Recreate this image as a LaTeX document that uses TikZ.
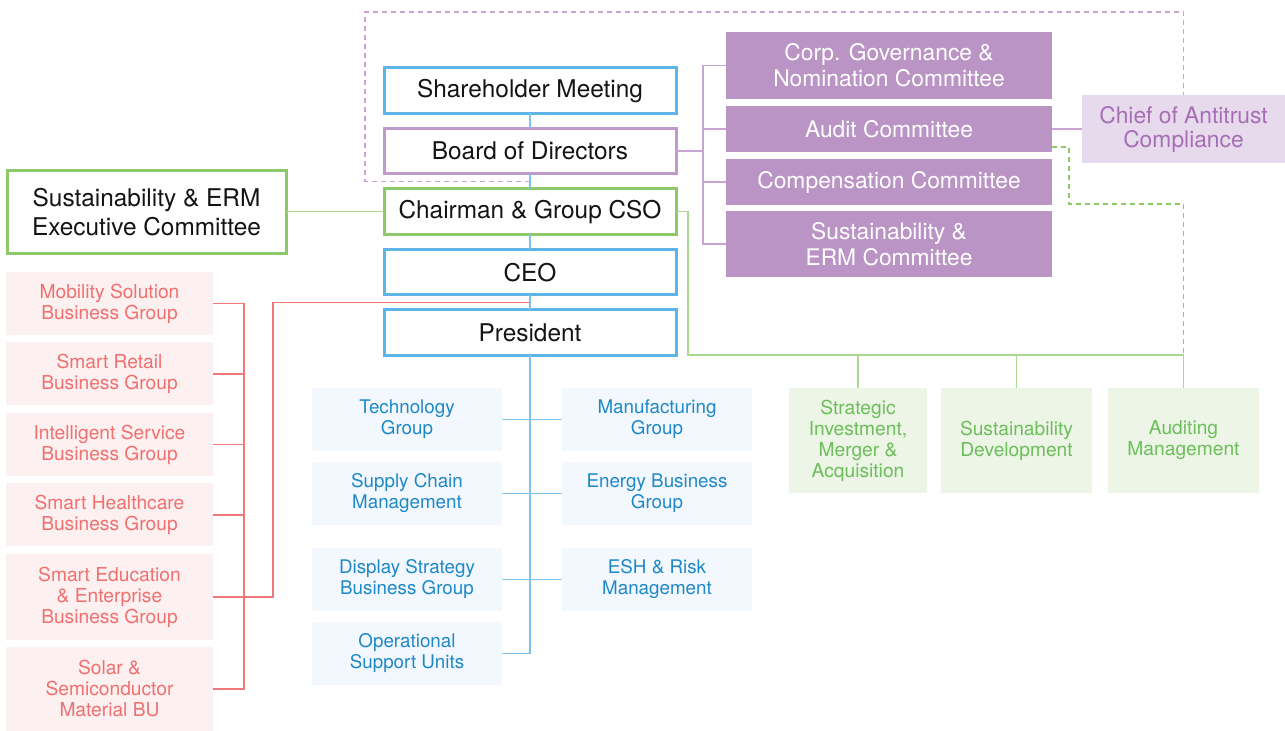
\documentclass[tikz,border=0pt]{standalone}
\usepackage{fontspec}
\setmainfont{TeX Gyre Heros}
\usetikzlibrary{positioning, calc}
\definecolor{colBlue}{RGB}{93,180,230}
\definecolor{colPurple}{RGB}{192,154,203}
\definecolor{colGreen}{RGB}{141,201,106}
\definecolor{colComm}{RGB}{186,148,196}
\definecolor{colChief}{RGB}{230,218,236}
\definecolor{colChiefTxt}{RGB}{166,111,181}
\definecolor{colRedFill}{RGB}{253,240,240}
\definecolor{colRedTxt}{RGB}{240,112,112}
\definecolor{colBlueFill}{RGB}{242,248,253}
\definecolor{colBlueTxt}{RGB}{30,136,200}
\definecolor{colGreenFill}{RGB}{236,245,230}
\definecolor{colGreenTxt}{RGB}{108,190,90}
\definecolor{colBlueLn}{RGB}{125,195,235}
\definecolor{colPurpleLn}{RGB}{200,165,212}
\definecolor{colGreenLn}{RGB}{170,215,145}
\definecolor{colRedLn}{RGB}{240,120,120}
\tikzset{
  % shared base
  unit/.style={rectangle, inner sep=2pt, outer sep=0pt, align=center},
  % boxes
  sMain/.style ={unit, draw=#1, line width=1.5pt, fill=white, text=black!92,
                 minimum width=146pt, minimum height=22.75pt,
                 font=\fontsize{12.2}{14.5}\selectfont},
  sComm/.style ={unit, fill=colComm, text=white, minimum width=163pt,
                 font=\fontsize{11.4}{13}\selectfont},
  sChief/.style={unit, fill=colChief, text=colChiefTxt, minimum width=101.5pt,
                 minimum height=34pt, font=\fontsize{11.4}{12}\selectfont},
  sBG/.style   ={unit, fill=colRedFill, text=colRedTxt, minimum width=103.5pt,
                 font=\fontsize{9.6}{10.5}\selectfont},
  sFunc/.style ={unit, fill=colBlueFill, text=colBlueTxt, minimum width=95pt,
                 minimum height=31.5pt, font=\fontsize{9.4}{10.5}\selectfont},
  sStaff/.style={unit, fill=colGreenFill, text=colGreenTxt, minimum height=52.5pt,
                 font=\fontsize{9.6}{10.5}\selectfont},
  % connectors
  blueLn/.style  ={draw=colBlueLn, line width=0.75pt},
  purpleLn/.style={draw=colPurpleLn, line width=0.75pt},
  greenLn/.style ={draw=colGreenLn, line width=0.75pt},
  redLn/.style   ={draw=colRedLn, line width=0.75pt},
  purpleDash/.style={draw=colPurpleLn, line width=0.75pt, dash pattern=on 2.5pt off 2pt},
  greenDash/.style ={draw=colGreen, line width=0.75pt, dash pattern=on 2.5pt off 2pt},
}
\begin{document}
\begin{tikzpicture}[x=0.5pt, y=-0.5pt]
\useasboundingbox (0,0) rectangle (1285,731);

% ---------------------------------------------------------------
%  main spine
% ---------------------------------------------------------------
\node[sMain=colBlue] (sh) at (530,90.75) {Shareholder Meeting};
\node[sMain=colPurple, below=7.5pt of sh]  (bod)   {Board of Directors};
\node[sMain=colGreen,  below=7.5pt of bod] (chair) {Chairman \& Group CSO};
\node[sMain=colBlue,   below=7.5pt of chair] (ceo) {CEO};
\node[sMain=colBlue,   below=7.5pt of ceo] (pres)  {President};

\node[sMain=colGreen, minimum width=139.5pt, minimum height=41.5pt,
      left=49pt of chair] (sec) {Sustainability \& ERM\\Executive Committee};

% ---------------------------------------------------------------
%  board committees
% ---------------------------------------------------------------
\node[sComm, minimum height=33.5pt] (corp) at (889,65.5)
  {Corp. Governance \&\\Nomination Committee};
\node[sComm, minimum height=23pt, below=3.5pt of corp]  (audit) {Audit Committee};
\node[sComm, minimum height=23pt, below=3.5pt of audit] (comp)  {Compensation Committee};
\node[sComm, minimum height=33pt, below=3pt of comp]    (sust)  {Sustainability \&\\ERM Committee};

\node[sChief, right=15pt of audit] (chief) {Chief of Antitrust\\Compliance};

% ---------------------------------------------------------------
%  business groups (left)
% ---------------------------------------------------------------
\node[sBG, minimum height=31.5pt] (mob) at (109.5,303.5) {Mobility Solution\\Business Group};
\node[sBG, minimum height=31.5pt, below=3.75pt of mob]    (retail) {Smart Retail\\Business Group};
\node[sBG, minimum height=31.5pt, below=3.75pt of retail] (intel)  {Intelligent Service\\Business Group};
\node[sBG, minimum height=31.5pt, below=3.75pt of intel]  (health) {Smart Healthcare\\Business Group};
\node[sBG, minimum height=43pt,   below=3.75pt of health] (edu)    {Smart Education\\\& Enterprise\\Business Group};
\node[sBG, minimum height=41.5pt, below=3.75pt of edu]    (solar)  {Solar \&\\Semiconductor\\Material BU};

% ---------------------------------------------------------------
%  functional groups (centre)
% ---------------------------------------------------------------
\node[sFunc] (tech) at (407,419.5) {Technology\\Group};
\node[sFunc, below=5.5pt of tech]  (scm) {Supply Chain\\Management};
\node[sFunc, below=11.5pt of scm]  (dsp) {Display Strategy\\Business Group};
\node[sFunc, below=5.5pt of dsp]   (ops) {Operational\\Support Units};
\node[sFunc, right=30pt of tech]   (manu)   {Manufacturing\\Group};
\node[sFunc, right=30pt of scm]    (energy) {Energy Business\\Group};
\node[sFunc, right=30pt of dsp]    (esh)    {ESH \& Risk\\Management};

% ---------------------------------------------------------------
%  staff units (right)
% ---------------------------------------------------------------
\node[sStaff, minimum width=69pt] (sim) at (858,440.5)
  {Strategic\\Investment,\\Merger \&\\Acquisition};
\node[sStaff, minimum width=75.5pt, right=7pt of sim]  (sdev) {Sustainability\\Development};
\node[sStaff, minimum width=75.5pt, right=8pt of sdev] (aud)  {Auditing\\Management};

% ---------------------------------------------------------------
%  connectors
% ---------------------------------------------------------------
\coordinate (dashA)   at ($(bod.south)!0.5!(chair.north)$);
\coordinate (redjoin) at ($(ceo.south)!0.5!(pres.north)$);
\coordinate (pbus)    at ($(bod.east)+(27,0)$);
\coordinate (rbus)    at ($(edu.east)+(31,0)$);
\coordinate (gbus)    at (688,355);
\coordinate (gdash)   at ($(audit.south east)+(0,-5)$);

% spine
\draw[blueLn] (sh) -- (bod) -- (chair) -- (ceo) -- (pres);
\draw[blueLn] (pres.south) |- (ops.east);
\draw[blueLn] (tech) -- (manu);
\draw[blueLn] (scm) -- (energy);
\draw[blueLn] (dsp) -- (esh);

% board side
\draw[purpleLn] (bod.east) -- (pbus);
\foreach \c in {corp, audit, comp, sust}
  \draw[purpleLn] (pbus) |- (\c.west);
\draw[purpleLn] (audit.east) -- (chief.west);
\draw[purpleDash] (dashA) -| (365,12) -| (chief.north);

% chairman side
\draw[greenLn] (sec.east) -- (chair.west);
\draw[greenLn] (chair.east) -| (gbus) -| (aud.north);
\draw[greenLn] (sim.north) -- (sim.north |- gbus);
\draw[greenLn] (sdev.north) -- (sdev.north |- gbus);
\draw[greenDash] (gdash) -| ($(gdash)+(17,57)$) -| (aud.north |- gbus);

% business groups
\foreach \b in {mob, retail, intel, health, edu, solar}
  \draw[redLn] (\b.east) -| (rbus);
\draw[redLn] (rbus) -| ($(redjoin)+(-257,0)$) -- (redjoin);

\end{tikzpicture}
\end{document}
